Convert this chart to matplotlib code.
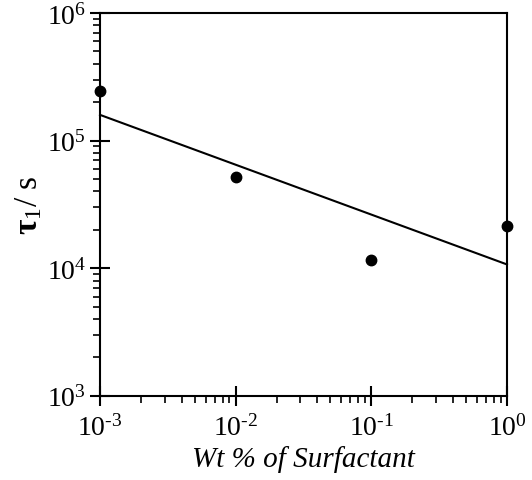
import matplotlib
matplotlib.use("Agg")
import matplotlib.pyplot as plt
from matplotlib.ticker import LogLocator, NullFormatter

plt.rcParams['font.family'] = ['Liberation Serif', 'DejaVu Serif']
plt.rcParams['mathtext.fontset'] = 'custom'
plt.rcParams['mathtext.rm'] = 'Liberation Serif'
plt.rcParams['mathtext.it'] = 'Liberation Serif:italic'
plt.rcParams['mathtext.bf'] = 'Liberation Serif:bold'

# measured points
wt_pct = [1e-3, 1e-2, 1e-1, 1e0]
tau1 = [2.45e5, 5.2e4, 1.16e4, 2.15e4]

# fitted line end points
fit_x = [1e-3, 1e0]
fit_y = [1.59e5, 1.07e4]

x_ticks = [1e-3, 1e-2, 1e-1, 1e0]
x_labels = [r'$10^{\text{-3}}$', r'$10^{\text{-2}}$', r'$10^{\text{-1}}$', r'$10^{0}$']
y_ticks = [1e3, 1e4, 1e5, 1e6]
y_labels = ['$10^{3}$', '$10^{4}$', '$10^{5}$', '$10^{6}$']

fig = plt.figure(figsize=(5.32, 4.81), dpi=100)
ax = fig.add_axes([0.188, 0.175, 0.765, 0.796])

ax.plot(fit_x, fit_y, color='black', lw=1.5, clip_on=False, zorder=2)
ax.plot(wt_pct, tau1, 'o', color='black', ms=7.5, clip_on=False, zorder=3)

ax.set_xscale('log')
ax.set_yscale('log')
ax.set_xlim(1e-3, 1e0)
ax.set_ylim(1e3, 1e6)

ax.set_xticks(x_ticks)
ax.set_xticklabels(x_labels)
ax.set_yticks(y_ticks)
ax.set_yticklabels(y_labels)
ax.xaxis.set_minor_locator(LogLocator(base=10, subs=range(2, 10)))
ax.yaxis.set_minor_locator(LogLocator(base=10, subs=range(2, 10)))
ax.xaxis.set_minor_formatter(NullFormatter())
ax.yaxis.set_minor_formatter(NullFormatter())

ax.tick_params(which='major', direction='inout', length=14, width=1.5,
               labelsize=20, pad=3, top=False, right=False)
ax.tick_params(which='minor', direction='out', length=5, width=1.2,
               top=False, right=False)
ax.tick_params(axis='x', which='major', pad=6)

for sp in ax.spines.values():
    sp.set_linewidth(1.5)

ax.set_xlabel('Wt % of Surfactant', fontsize=21, style='italic', labelpad=3)
ax.set_ylabel(r'$\mathbf{\tau}_{1}$/ s', fontsize=24, labelpad=2)

fig.savefig('out.png', dpi=100)
